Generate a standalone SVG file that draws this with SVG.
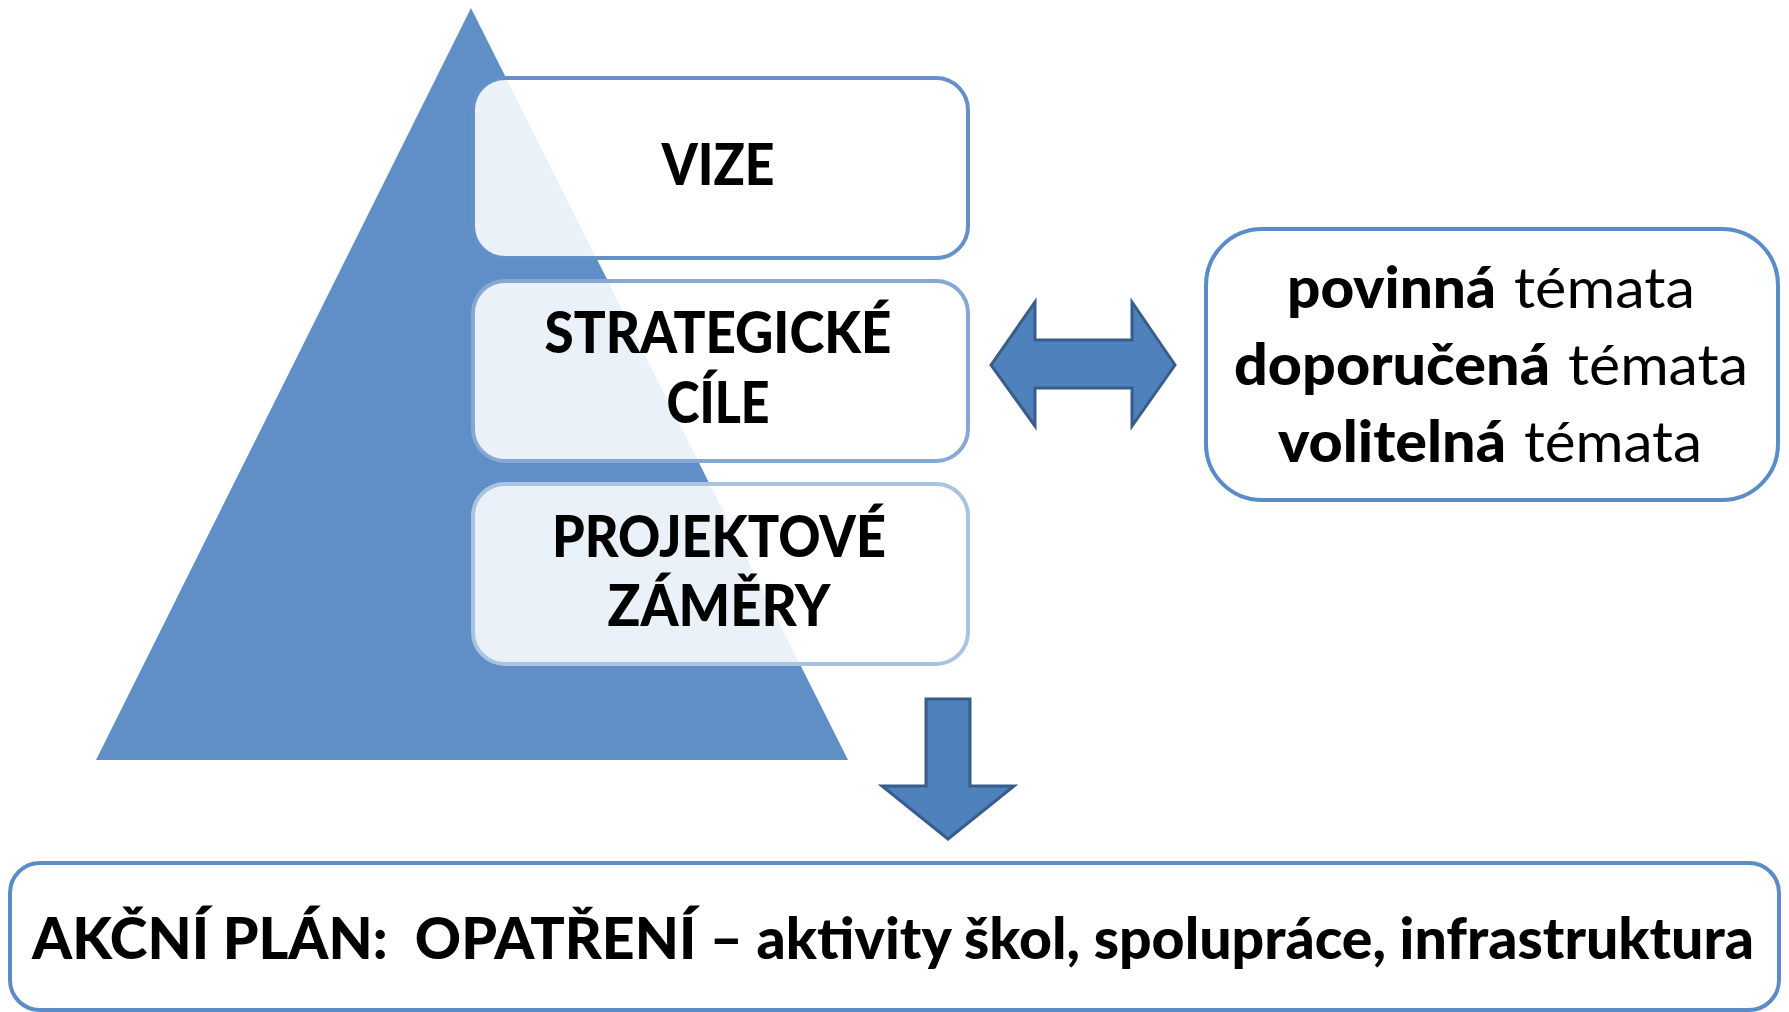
<svg xmlns="http://www.w3.org/2000/svg" width="1789" height="1012" viewBox="0 0 1789 1012">
<style>
.b{font-family:Lato,"Open Sans","Liberation Sans",sans-serif;font-weight:900;font-size:57px;fill:#000}
.r{font-family:Lato,"Open Sans","Liberation Sans",sans-serif;font-weight:normal;font-size:57px;fill:#000}
.lvl{fill:#fff;fill-opacity:0.88;stroke-width:4}
.arr{fill:#4F81BD;stroke:#385D8A;stroke-width:3;stroke-linejoin:miter}
</style>
<rect width="1789" height="1012" fill="#fff"/>
<g id="pyramid">
<polygon points="471,8 848,760 96,760" fill="#5F8FC6"/>
</g>
<g id="vize">
<rect class="lvl" x="473" y="78" width="495" height="180" rx="32" stroke="#6591C7"/>
<text class="b" x="718" y="185" text-anchor="middle" textLength="113" lengthAdjust="spacingAndGlyphs">VIZE</text>
</g>
<g id="strategicke-cile">
<rect class="lvl" x="473" y="281" width="495" height="180" rx="32" stroke="#87A8D3"/>
<text class="b" x="718" y="353" text-anchor="middle" textLength="347" lengthAdjust="spacingAndGlyphs">STRATEGICKÉ</text>
<text class="b" x="718" y="423" text-anchor="middle" textLength="103" lengthAdjust="spacingAndGlyphs">CÍLE</text>
</g>
<g id="projektove-zamery">
<rect class="lvl" x="473" y="484" width="495" height="180" rx="32" stroke="#A9C3E1"/>
<text class="b" x="719" y="557" text-anchor="middle" textLength="334" lengthAdjust="spacingAndGlyphs">PROJEKTOVÉ</text>
<text class="b" x="719" y="626" text-anchor="middle" textLength="223" lengthAdjust="spacingAndGlyphs">ZÁMĚRY</text>
</g>
<g id="temata">
<rect x="1206" y="229" width="572" height="271" rx="56" fill="#fff" stroke="#5B8CC8" stroke-width="4"/>
<text class="b" x="1287" y="308" textLength="209" lengthAdjust="spacingAndGlyphs">povinná</text>
<text class="r" x="1514" y="308" textLength="181" lengthAdjust="spacingAndGlyphs">témata</text>
<text class="b" x="1234" y="385" textLength="316" lengthAdjust="spacingAndGlyphs">doporučená</text>
<text class="r" x="1568" y="385" textLength="180" lengthAdjust="spacingAndGlyphs">témata</text>
<text class="b" x="1278" y="462" textLength="228" lengthAdjust="spacingAndGlyphs">volitelná</text>
<text class="r" x="1524" y="462" textLength="178" lengthAdjust="spacingAndGlyphs">témata</text>
</g>
<g id="akcni-plan">
<rect x="10" y="863" width="1769" height="147" rx="30" fill="#fff" stroke="#5B8CC8" stroke-width="4"/>
<text class="b" x="32" y="959" textLength="1722" lengthAdjust="spacingAndGlyphs" style="white-space:pre">AKČNÍ PLÁN:  OPATŘENÍ – aktivity škol, spolupráce, infrastruktura</text>
</g>
<g id="connectors">
<polygon class="arr" points="991,365 1035,302 1035,340 1132,340 1132,302 1175,365 1132,426 1132,388 1035,388 1035,426"/>
<polygon class="arr" points="926,699 970,699 970,786 1014,786 948,839 882,786 926,786"/>
</g>
</svg>
